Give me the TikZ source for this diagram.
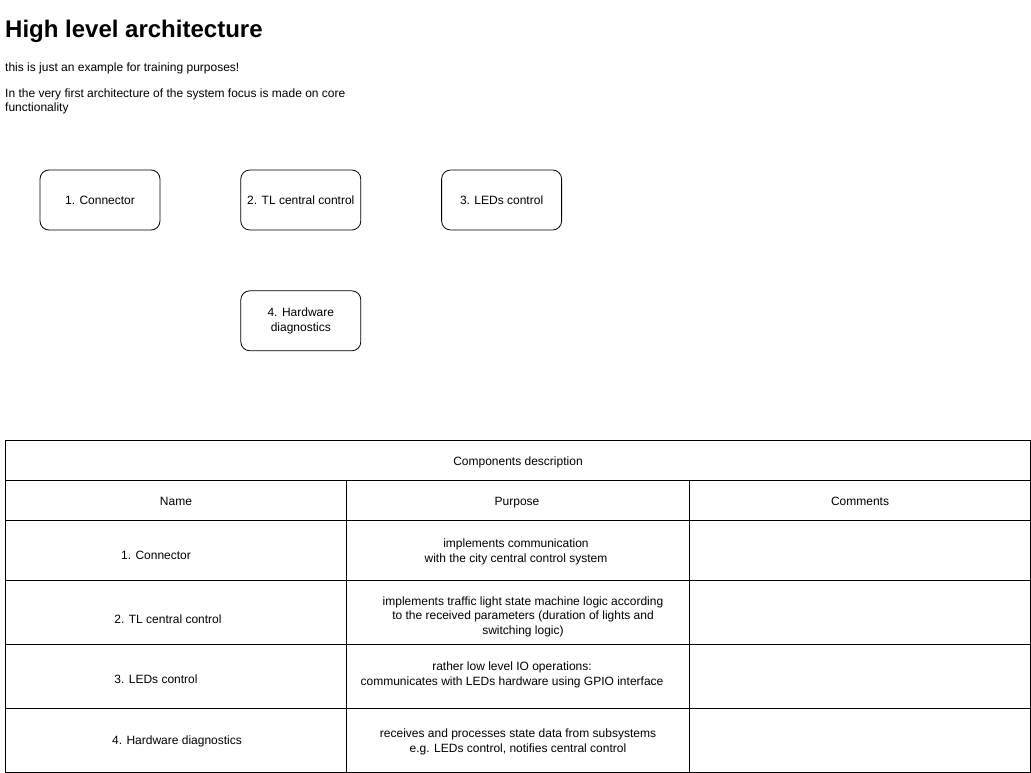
\documentclass[tikz,border=0pt]{standalone}
\usepackage{fontspec}
\setmainfont{Liberation Sans}
\usetikzlibrary{positioning}

\begin{document}
\begin{tikzpicture}[
							x=1pt,
							y=-1pt,
							node distance=80pt,
							font=\fontsize{12}{14.5}\selectfont,
							block/.style={draw, rounded corners=9pt, line width=0.8pt, minimum width=120pt, minimum height=60pt, align=center, inner sep=2pt},
							grid/.style={draw, line width=0.8pt},
							txt/.style={inner sep=0pt, anchor=base west},
							celltext/.style={inner sep=0pt, align=center},
							cellline/.style={inner sep=0pt, anchor=base}
						]
						\useasboundingbox (0,0) rectangle (1031,773);
						\node[txt, font=\fontsize{24}{28}\selectfont\bfseries] (title) at (5,38) {High level architecture};
						\node[txt] (note) at (5,72) {this is just an example for training purposes!};
						\node[txt, align=left] (intro) at (5,112) {In the very first architecture of the system focus is made on core\\functionality};
						\node[block] (connector) at (100,200) {1. Connector};
						\node[block, right=80pt of connector] (central) {2. TL central control};
						\node[block, right=80pt of central] (leds) {3. LEDs control};
						\node[block, below=60pt of central] (diag) {4. Hardware\\diagnostics};
						\draw[grid] (5,440) rectangle (1030,772);
						\foreach \y in {480,520,580,644,708}
							\draw[grid] (5,\y) -- (1030,\y);
						\draw[grid] (346,480) -- (346,772);
						\draw[grid] (689,480) -- (689,772);
						\node[cellline] (caption) at (518,465) {Components description};
						\node[cellline] (hname) at (176,505) {Name};
						\node[cellline] (hpurpose) at (517,505) {Purpose};
						\node[cellline] (hcomments) at (860,505) {Comments};
						\node[cellline] (name1) at (156,559) {1. Connector};
						\node[cellline] (name2) at (168,623) {2. TL central control};
						\node[cellline] (name3) at (156,683) {3. LEDs control};
						\node[cellline] (name4) at (177,744) {4. Hardware diagnostics};
						\node[celltext] (purpose1) at (516,552) {implements communication\\with the city central control system};
						\node[celltext] (purpose2) at (523,616.5) {implements traffic light state machine logic according\\to the received parameters (duration of lights and\\switching logic)};
						\node[celltext] (purpose3) at (512,675) {rather low level IO operations:\\communicates with LEDs hardware using GPIO interface};
						\node[celltext] (purpose4) at (518,742) {receives and processes state data from subsystems\\e.g. LEDs control, notifies central control};
					\end{tikzpicture}
\end{document}
